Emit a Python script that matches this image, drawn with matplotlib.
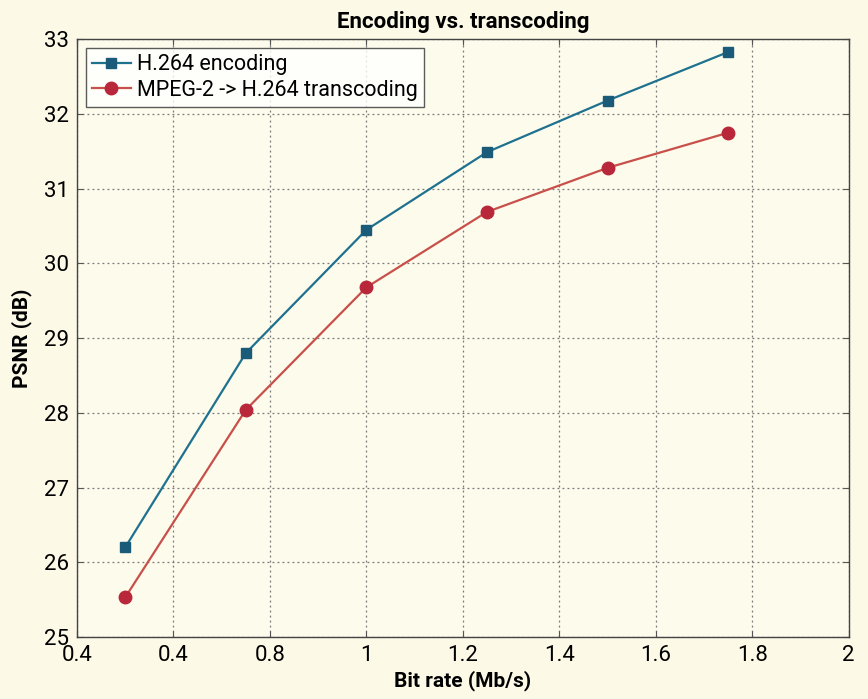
import matplotlib
matplotlib.use("Agg")
import matplotlib.pyplot as plt
from matplotlib.ticker import FixedLocator, FixedFormatter

# data
bitrate = [0.5, 0.75, 1.0, 1.25, 1.5, 1.75]
psnr_enc = [26.2, 28.8, 30.45, 31.49, 32.18, 32.83]
psnr_trans = [25.53, 28.04, 29.68, 30.69, 31.28, 31.75]
xticks = [0.4, 0.6, 0.8, 1.0, 1.2, 1.4, 1.6, 1.8, 2.0]
xlabels = ["0.4", "0.4", "0.8", "1", "1.2", "1.4", "1.6", "1.8", "2"]
yticks = [25, 26, 27, 28, 29, 30, 31, 32, 33]

plt.rcParams["font.family"] = ["Roboto", "DejaVu Sans"]
bg = "#fcf9e6"

fig = plt.figure(figsize=(8.68, 6.99), dpi=100, facecolor=bg)
ax = fig.add_axes([0.0887, 0.0887, 0.889, 0.855], facecolor="#fdfbec")

ax.plot(bitrate, psnr_enc, color="#1f7190", lw=1.6, marker="s", ms=7,
        mfc="#1b5b7a", mec="#1b5b7a", label="H.264 encoding")
ax.plot(bitrate, psnr_trans, color="#c8504a", lw=1.6, marker="o", ms=9,
        mfc="#b8283a", mec="#b8283a", label="MPEG-2 -> H.264 transcoding")

ax.set_xlim(0.4, 2.0)
ax.set_ylim(25, 33)
ax.xaxis.set_major_locator(FixedLocator(xticks))
ax.xaxis.set_major_formatter(FixedFormatter(xlabels))
ax.set_yticks(yticks)
ax.tick_params(direction="in", top=True, right=True, labelsize=16, length=4,
               color="#555555", pad=6)
ax.grid(True, ls=(0, (1.5, 2.5)), color="#777777", lw=0.9)
for s in ax.spines.values():
    s.set_color("#444444")
    s.set_linewidth(1.0)

ax.set_title("Encoding vs. transcoding", fontsize=16, fontweight="bold", pad=8)
ax.set_xlabel("Bit rate (Mb/s)", fontsize=15, fontweight="bold", labelpad=3)
ax.set_ylabel("PSNR (dB)", fontsize=15, fontweight="bold", labelpad=8)

leg = ax.legend(loc="upper left", fontsize=15.5, frameon=True, fancybox=False,
                borderpad=0.3, handlelength=1.8, handletextpad=0.3,
                labelspacing=0.2, borderaxespad=0.4)
leg.get_frame().set_edgecolor("#333333")
leg.get_frame().set_facecolor("white")
leg.get_frame().set_linewidth(1.0)

fig.savefig("out.png", dpi=100, facecolor=bg)
